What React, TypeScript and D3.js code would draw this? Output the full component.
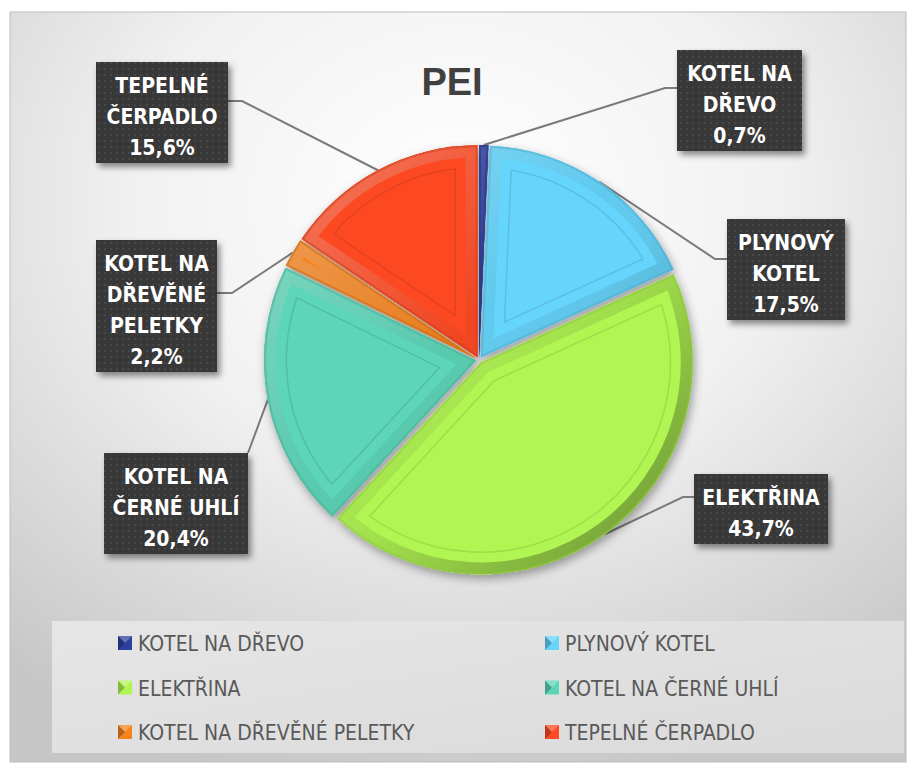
import * as d3 from "d3";

const categories = [
  "KOTEL NA DŘEVO",
  "PLYNOVÝ KOTEL",
  "ELEKTŘINA",
  "KOTEL NA ČERNÉ UHLÍ",
  "KOTEL NA DŘEVĚNÉ PELETKY",
  "TEPELNÉ ČERPADLO",
];
const values = [0.7, 17.5, 43.7, 20.4, 2.2, 15.6];
const labelLines = [
  ["KOTEL NA", "DŘEVO"],
  ["PLYNOVÝ", "KOTEL"],
  ["ELEKTŘINA"],
  ["KOTEL NA", "ČERNÉ UHLÍ"],
  ["KOTEL NA", "DŘEVĚNÉ", "PELETKY"],
  ["TEPELNÉ", "ČERPADLO"],
];
const colors = ["#2f3f9e", "#66d5fb", "#b1f553", "#5dd5b8", "#f5841f", "#fd4a24"];
const title = "PEI";

// label box layout (box top-left, width, which side the leader leaves from)
const labelLayout = [
  { x: 677, y: 50, w: 125, side: "left", ay: 88, elbow: 665 },
  { x: 727, y: 219, w: 118, side: "left", ay: 259, elbow: 715 },
  { x: 694, y: 474, w: 134, side: "left", ay: 497, elbow: 683 },
  { x: 104, y: 453, w: 144, side: "corner", ay: 453, elbow: 248 },
  { x: 96, y: 240, w: 121, side: "right", ay: 293, elbow: 232 },
  { x: 96, y: 62, w: 132, side: "right", ay: 101, elbow: 242 },
];

const W = 913;
const H = 771;
const cx = 479;
const cy = 360;
const r = 212;
const explode = 3;
const lineH = 31;
const narrow = "'Liberation Sans Narrow', 'DejaVu Sans Condensed', sans-serif";

const fmt = (v: number) => v.toFixed(1).replace(".", ",") + "%";

export default function App() {
  const pie = d3
    .pie<number>()
    .sort(null)
    .value((d) => d);
  const arcs = pie(values);
  const arc = d3.arc<d3.PieArcDatum<number>>().innerRadius(0).outerRadius(r);
  const rimArc = d3.arc<d3.PieArcDatum<number>>().innerRadius(r).outerRadius(r);

  const offset = (d: d3.PieArcDatum<number>) => {
    const a = (d.startAngle + d.endAngle) / 2;
    return [Math.sin(a) * explode, -Math.cos(a) * explode];
  };

  const rowY = d3.scalePoint<number>().domain([0, 1, 2]).range([643, 732]);
  const colX = d3.scalePoint<number>().domain([0, 1]).range([118, 545]);

  return (
    <svg
      width={W}
      height={H}
      style={{ position: "absolute", left: 0, top: 0 }}
      fontFamily={narrow}
    >
      <defs>
        <radialGradient id="bg" cx="0.5" cy="0.25" r="0.8">
          <stop offset="0" stopColor="#ffffff" />
          <stop offset="0.45" stopColor="#f1f1f1" />
          <stop offset="1" stopColor="#c6c6c6" />
        </radialGradient>
        <linearGradient id="legbg" x1="0" y1="0" x2="1" y2="1">
          <stop offset="0" stopColor="#e6e6e6" />
          <stop offset="1" stopColor="#dadada" />
        </linearGradient>
        <linearGradient
          id="bevel"
          gradientUnits="userSpaceOnUse"
          x1={-r}
          y1={-r}
          x2={r}
          y2={r}
        >
          <stop offset="0" stopColor="#fff" stopOpacity="0.3" />
          <stop offset="0.45" stopColor="#fff" stopOpacity="0.0" />
          <stop offset="0.6" stopColor="#000" stopOpacity="0.05" />
          <stop offset="1" stopColor="#000" stopOpacity="0.4" />
        </linearGradient>
        <pattern id="dots" width="6" height="6" patternUnits="userSpaceOnUse">
          <rect width="6" height="6" fill="#383838" />
          <circle cx="3" cy="3" r="1" fill="#4a4a4a" />
        </pattern>
        <filter id="shadow" x="-20%" y="-20%" width="140%" height="140%">
          <feDropShadow dx="3" dy="4" stdDeviation="3" floodColor="#000" floodOpacity="0.45" />
        </filter>
        <filter id="pieShadow" x="-20%" y="-20%" width="140%" height="140%">
          <feDropShadow dx="2" dy="4" stdDeviation="5" floodColor="#000" floodOpacity="0.35" />
        </filter>
        {arcs.map((d, i) => (
          <clipPath id={`clip-${i}`} key={i}>
            <path d={arc(d) || ""} />
          </clipPath>
        ))}
      </defs>

      <rect x={0} y={0} width={W} height={H} fill="#fff" />
      <rect x={10} y={12} width={896} height={750} fill="url(#bg)" stroke="#bdbdbd" />

      <text
        x={452}
        y={95}
        textAnchor="middle"
        fontFamily="'Liberation Sans', Arial, sans-serif"
        fontWeight="bold"
        fontSize={38}
        fill="#404040"
      >
        {title}
      </text>

      {/* leader lines */}
      <g stroke="#7a7a7a" strokeWidth={2} fill="none">
        {arcs.map((d, i) => {
          const L = labelLayout[i];
          const [ox, oy] = offset(d);
          const [px, py] = rimArc.centroid(d);
          const end: [number, number] = [cx + px + ox, cy + py + oy];
          const ax = L.side === "left" ? L.x : L.x + L.w;
          const pts: [number, number][] =
            L.side === "corner"
              ? [[ax, L.ay], end]
              : [[ax, L.ay], [L.elbow, L.ay], end];
          return <path key={i} d={d3.line()(pts) || ""} />;
        })}
      </g>

      {/* pie */}
      <g transform={`translate(${cx},${cy})`} filter="url(#pieShadow)">
        {arcs.map((d, i) => {
          const [ox, oy] = offset(d);
          const base = colors[i];
          const dark = d3.color(base)!.darker(0.6).formatHex();
          const rim = d3.color(base)!.darker(0.15).formatHex();
          const path = arc(d) || "";
          return (
            <g key={i} transform={`translate(${ox},${oy})`}>
              <path d={path} fill={base} />
              <g clipPath={`url(#clip-${i})`} fill="none">
                <path d={path} stroke={dark} strokeOpacity={0.55} strokeWidth={46} />
                <path d={path} stroke={base} strokeWidth={43} />
                <path d={path} stroke={rim} strokeWidth={24} />
                <path d={path} stroke="url(#bevel)" strokeWidth={24} />
                <path d={path} stroke={dark} strokeWidth={4} strokeOpacity={0.5} />
              </g>
            </g>
          );
        })}
      </g>

      {/* data labels */}
      {arcs.map((d, i) => {
        const L = labelLayout[i];
        const lines = [...labelLines[i], fmt(values[i])];
        const h = lines.length * lineH + 8;
        return (
          <g key={i}>
            <rect x={L.x} y={L.y} width={L.w} height={h} fill="url(#dots)" filter="url(#shadow)" />
            {lines.map((t, j) => (
              <text
                key={j}
                x={L.x + L.w / 2}
                y={L.y + lineH * (j + 1)}
                textAnchor="middle"
                fontWeight="bold"
                fontSize={21}
                fill="#fff"
              >
                {t}
              </text>
            ))}
          </g>
        );
      })}

      {/* legend */}
      <rect x={52} y={621} width={852} height={132} fill="url(#legbg)" />
      {categories.map((c, i) => {
        const x = colX(i % 2)!;
        const y = rowY(Math.floor(i / 2))!;
        const base = colors[i];
        const s = 14;
        return (
          <g key={c}>
            <rect x={x} y={y - s / 2} width={s} height={s} fill={base} />
            <path
              d={`M${x},${y - s / 2}L${x + s / 2},${y}L${x},${y + s / 2}Z`}
              fill="#000"
              fillOpacity={0.25}
            />
            <path
              d={`M${x},${y - s / 2}L${x + s},${y - s / 2}L${x + s / 2},${y}Z`}
              fill="#fff"
              fillOpacity={0.25}
            />
            <text x={x + 20} y={y + 8} fontSize={21} fill="#595959">
              {c}
            </text>
          </g>
        );
      })}
    </svg>
  );
}
